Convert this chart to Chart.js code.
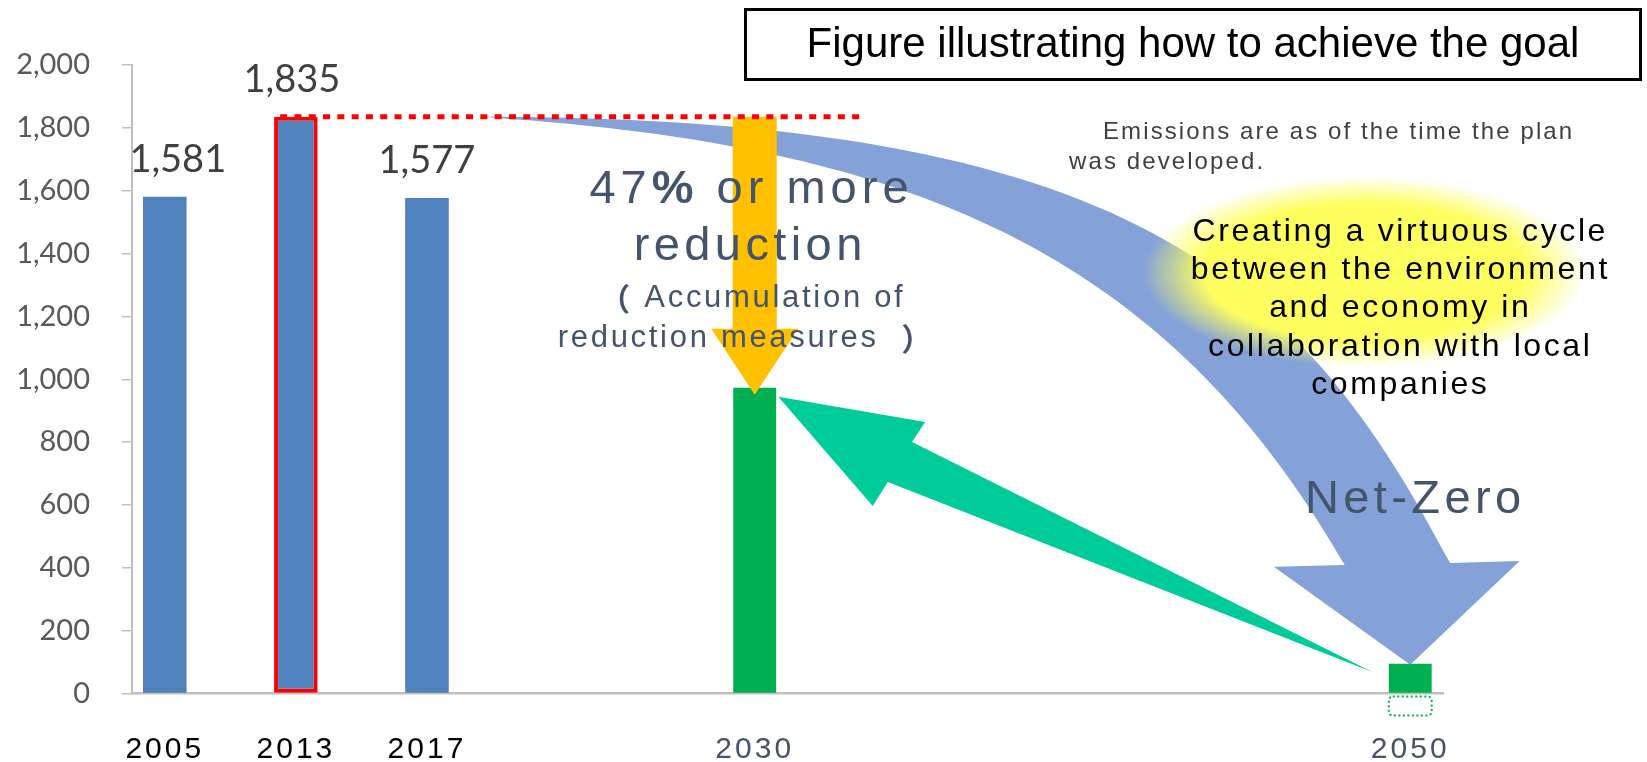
<!DOCTYPE html>
<html>
<head>
<meta charset="utf-8">
<script src="https://cdn.jsdelivr.net/npm/chart.js@4.4.1/dist/chart.umd.min.js"></script>
<style>
  html, body { margin: 0; padding: 0; background: #ffffff; }
  #wrap { width: 1647px; height: 762px; }
</style>
</head>
<body>
<div id="wrap"><canvas id="graph" width="1647" height="762"></canvas></div>
<script>
// x categories: the empty slots keep the gaps between the years
const categories = ['2005', '', '2013', '', '2017', '', '', '', '', '2030',
                    '', '', '', '', '', '', '', '', '', '2050'];

// measured emissions (blue bars)
const emissions = [1581, null, 1835, null, 1577, null, null, null, null, null,
                   null, null, null, null, null, null, null, null, null, null];

// targets (green bars)
const targets = [null, null, null, null, null, null, null, null, null, 973,
                 null, null, null, null, null, null, null, null, null, 95];

// dotted box under the axis in 2050 (absorption)
const absorption = [null, null, null, null, null, null, null, null, null, null,
                    null, null, null, null, null, null, null, null, null, -70];

const baseIndex = 2;      // 2013, base year with the red border
const yMax = 2000;
const yStep = 200;

const fmt = v => v.toLocaleString('en-US');

// helper for spaced text
function spacedText(ctx, text, x, y, font, color, spacing, align) {
  ctx.save();
  ctx.font = font;
  ctx.fillStyle = color;
  ctx.letterSpacing = spacing + 'px';
  ctx.textAlign = align || 'center';
  ctx.textBaseline = 'middle';
  ctx.fillText(text, align === 'left' ? x : x + spacing / 2, y);
  ctx.restore();
}

// text made of pieces with different fonts, centred on cx
function mixedText(ctx, parts, cx, y, color, spacing) {
  ctx.save();
  ctx.fillStyle = color;
  ctx.letterSpacing = spacing + 'px';
  ctx.textAlign = 'left';
  ctx.textBaseline = 'middle';
  let total = 0;
  parts.forEach(p => { ctx.font = p[1]; total += ctx.measureText(p[0]).width; });
  let px = cx - total / 2 + spacing / 2;
  parts.forEach(p => { ctx.font = p[1]; ctx.fillText(p[0], px, y); px += ctx.measureText(p[0]).width; });
  ctx.restore();
}

const extras = {
  id: 'extras',
  afterDatasetsDraw(chart) {
    const ctx = chart.ctx;
    const xs = chart.scales.x;
    const ys = chart.scales.y;
    const X = i => xs.getPixelForValue(i);
    const Y = v => ys.getPixelForValue(v);
    const baseValue = emissions[baseIndex];
    const metaT = chart.getDatasetMeta(1);

    // big blue curved arrow 2013 -> 2050
    ctx.save();
    ctx.fillStyle = '#84A2D8';
    ctx.beginPath();
    ctx.moveTo(X(4.8), Y(baseValue));
    ctx.bezierCurveTo(X(14.73), Y(baseValue), X(17.32), Y(1322), X(19.61), Y(415));
    ctx.lineTo(X(20.67), Y(422));
    ctx.lineTo(X(19), Y(targets[19]) + 1);
    ctx.lineTo(X(16.92), Y(403));
    ctx.lineTo(X(18.0), Y(409));
    ctx.bezierCurveTo(X(15.11), Y(1465), X(10.91), Y(1752), X(4.8), Y(baseValue));
    ctx.closePath();
    ctx.fill();
    ctx.restore();

    // yellow glow
    ctx.save();
    ctx.translate(1365, 272);
    ctx.scale(1, 95 / 222);
    const g = ctx.createRadialGradient(0, 0, 0, 0, 0, 222);
    g.addColorStop(0, 'rgba(255,255,95,1)');
    g.addColorStop(0.72, 'rgba(255,255,95,1)');
    g.addColorStop(1, 'rgba(255,255,95,0)');
    ctx.fillStyle = g;
    ctx.beginPath();
    ctx.arc(0, 0, 222, 0, Math.PI * 2);
    ctx.fill();
    ctx.restore();

    const glowLines = ['Creating a virtuous cycle', 'between the environment',
                       'and economy in', 'collaboration with local', 'companies'];
    glowLines.forEach((t, k) => {
      spacedText(ctx, t, 1399, 232 + k * 38.3, '32px "Liberation Sans"', '#000000', 2.6);
    });

    // yellow arrow, 2013 level down to the 2030 bar
    const cx = X(9);
    const tipY = metaT.data[9].y + 7;
    const headY = tipY - 66;
    ctx.save();
    ctx.fillStyle = '#FFC000';
    ctx.beginPath();
    ctx.moveTo(cx - 22, Y(baseValue));
    ctx.lineTo(cx + 22, Y(baseValue));
    ctx.lineTo(cx + 22, headY);
    ctx.lineTo(cx + 43.5, headY);
    ctx.lineTo(cx, tipY);
    ctx.lineTo(cx - 43.5, headY);
    ctx.lineTo(cx - 22, headY);
    ctx.closePath();
    ctx.fill();
    ctx.restore();

    // red dotted line at the 2013 level
    ctx.save();
    ctx.strokeStyle = '#FF0000';
    ctx.lineWidth = 5;
    ctx.setLineDash([7, 7.3]);
    ctx.beginPath();
    ctx.moveTo(X(1.76), Y(baseValue));
    ctx.lineTo(X(10.65), Y(baseValue));
    ctx.stroke();
    ctx.restore();

    // teal arrow 2050 -> 2030
    ctx.save();
    ctx.fillStyle = '#00CC99';
    ctx.beginPath();
    ctx.moveTo(X(9.36), Y(944));
    ctx.lineTo(X(11.6), Y(864));
    ctx.lineTo(X(11.40), Y(800));
    ctx.lineTo(X(18.43), Y(68));
    ctx.lineTo(X(11.03), Y(673));
    ctx.lineTo(X(10.80), Y(597));
    ctx.closePath();
    ctx.fill();
    ctx.restore();

    // dotted box below the axis
    absorption.forEach((v, i) => {
      if (v == null) return;
      const w = metaT.data[i].width;
      const x0 = X(i) - w / 2;
      const y0 = Y(0) + 3;
      ctx.save();
      ctx.strokeStyle = '#00B050';
      ctx.lineWidth = 2;
      ctx.setLineDash([2, 2.5]);
      ctx.beginPath();
      ctx.roundRect(x0, y0, w, Y(v) - y0, 4);
      ctx.stroke();
      ctx.restore();
    });

    // reduction texts
    const slate = '#44546A';
    const big = '47px "Liberation Sans"';
    const mid = '31px "Liberation Sans"';
    const paren = 'bold 31px "Noto Sans CJK JP"';
    mixedText(ctx, [['47', big], ['%', 'bold ' + big], [' or more', big]], 749, 190, slate, 5);
    spacedText(ctx, 'reduction', 748, 247, big, slate, 4.4);
    mixedText(ctx, [['（', paren], [' Accumulation of', mid]], 751, 298, slate, 2.7);
    mixedText(ctx, [['reduction measures  ', mid], ['）', paren]], 745, 338, slate, 2.7);
    spacedText(ctx, 'Net-Zero', 1413, 500, big, slate, 4.4);

    // note
    spacedText(ctx, 'Emissions are as of the time the plan', 1103, 132, '24px "Liberation Sans"', '#404040', 2.1, 'left');
    spacedText(ctx, 'was developed.', 1069, 162, '24px "Liberation Sans"', '#404040', 2.1, 'left');

    // title box
    ctx.save();
    ctx.strokeStyle = '#000000';
    ctx.lineWidth = 3;
    ctx.strokeRect(745.5, 9.5, 895, 70);
    ctx.restore();
    spacedText(ctx, 'Figure illustrating how to achieve the goal', 1193, 45, '42px "Liberation Sans"', '#000000', 0);

    // value labels on the blue bars (the 2005 one sits a bit to the right)
    const metaE = chart.getDatasetMeta(0);
    const nudge = { 0: 13, 2: -4 };
    ctx.save();
    ctx.font = '38px Lato';
    ctx.fillStyle = '#404040';
    ctx.textAlign = 'center';
    ctx.textBaseline = 'alphabetic';
    emissions.forEach((v, i) => {
      if (v == null) return;
      const bar = metaE.data[i];
      ctx.fillText(fmt(v), bar.x + (nudge[i] || 0), bar.y - 24.5);
    });
    ctx.restore();

    // x tick labels are drawn after this (z: 1), spaced
    ctx.letterSpacing = '3px';
  },
  afterDraw(chart) {
    chart.ctx.letterSpacing = '0px';
  }
};

const config = {
  type: 'bar',
  data: {
    labels: categories,
    datasets: [{
      label: 'Emissions',
      data: emissions,
      backgroundColor: '#4F81BD',
      borderColor: '#FF0000',
      borderWidth: c => c.dataIndex === baseIndex ? 4 : 0,
      borderSkipped: false,
      grouped: false,
      categoryPercentage: 1,
      barPercentage: 0.665
    }, {
      label: 'Target',
      data: targets,
      backgroundColor: '#00B050',
      borderWidth: 0,
      grouped: false,
      categoryPercentage: 1,
      barPercentage: 0.655
    }]
  },
  options: {
    responsive: false,
    animation: false,
    devicePixelRatio: 1,
    layout: { padding: { top: 65, right: 204, bottom: 0, left: 0 } },
    plugins: {
      legend: { display: false },
      tooltip: { enabled: false }
    },
    scales: {
      x: {
        grid: { display: false, drawTicks: false },
        border: { display: true, color: '#BFBFBF', width: 2.5 },
        ticks: {
          autoSkip: false,
          maxRotation: 0,
          padding: 38,
          z: 1,
          font: { family: 'Liberation Sans', size: 30 },
          color: c => targets[c.index] != null ? '#44546A' : '#000000'
        },
        afterFit: s => { s.height = 68.5; }
      },
      y: {
        min: 0,
        max: yMax,
        ticks: {
          stepSize: yStep,
          padding: 32,
          color: '#595959',
          font: { family: 'Lato', size: 29 },
          callback: v => fmt(v)
        },
        grid: { drawOnChartArea: false, drawTicks: true, tickLength: 10, color: '#BFBFBF', lineWidth: 1.5 },
        border: { display: true, color: '#BFBFBF', width: 2 },
        afterFit: s => { s.width = 132; }
      }
    }
  },
  plugins: [extras]
};

const chart = new Chart(document.getElementById('graph'), config);
</script>
</body>
</html>
